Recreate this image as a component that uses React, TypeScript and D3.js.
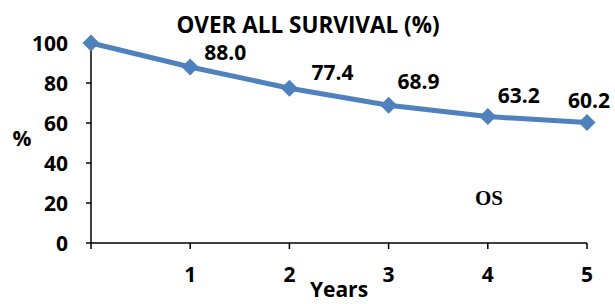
import React from 'react';
import * as d3 from 'd3';

// chart data
const years = [0, 1, 2, 3, 4, 5];
const survival = [100, 88.0, 77.4, 68.9, 63.2, 60.2];
const yTicks = [0, 20, 40, 60, 80, 100];
const xTickLabels = ['', '1', '2', '3', '4', '5'];

// nudges for the data labels (dx, dy from the marker)
const labelNudge: [number, number][] = [
  [0, 0], [14, -7], [22, -8], [9, -16], [10, -14], [-19, -15],
];

const W = 615;
const H = 304;
const BLUE = '#4F81BD';
const FONT = '"Open Sans", sans-serif';

export default function App() {
  const x = d3.scaleLinear().domain([0, 5]).range([91, 587]);
  const y = d3.scaleLinear().domain([0, 100]).range([243, 43]);

  const line = d3.line<number>()
    .x((_, i) => x(years[i]))
    .y(d => y(d));

  const diamond = (cx: number, cy: number, r: number) =>
    `M${cx},${cy - r}L${cx + r},${cy}L${cx},${cy + r}L${cx - r},${cy}Z`;

  return (
    <svg width={W} height={H} style={{ position: 'absolute', left: 0, top: 0, background: '#fff' }}
      fontFamily={FONT} fontWeight="bold">
      {/* title */}
      <text x={308} y={33} textAnchor="middle" fontSize={22.5}>OVER ALL SURVIVAL (%)</text>

      {/* y axis */}
      <line x1={x(0)} x2={x(0)} y1={y(100)} y2={y(0)} stroke="#000" strokeWidth={1.5} />
      {yTicks.map(t => (
        <g key={t}>
          <line x1={x(0) - 5} x2={x(0)} y1={y(t)} y2={y(t)} stroke="#000" strokeWidth={1.5} />
          <text x={68} y={y(t)} dy="0.36em" textAnchor="end" fontSize={21}>{t}</text>
        </g>
      ))}
      <text x={22} y={139} dy="0.35em" textAnchor="middle" fontSize={21}>%</text>

      {/* x axis */}
      <line x1={x(0)} x2={x(5)} y1={y(0)} y2={y(0)} stroke="#000" strokeWidth={1.5} />
      {years.map((v, i) => (
        <g key={v}>
          <line x1={x(v)} x2={x(v)} y1={y(0)} y2={y(0) + 6} stroke="#000" strokeWidth={1.5} />
          <text x={x(v)} y={282} textAnchor="middle" fontSize={21}>{xTickLabels[i]}</text>
        </g>
      ))}
      <text x={(x(0) + x(5)) / 2} y={297} textAnchor="middle" fontSize={21}>Years</text>

      {/* series */}
      <path d={line(survival) ?? ''} fill="none" stroke={BLUE} strokeWidth={5} strokeLinejoin="round" />
      {survival.map((v, i) => (
        <path key={i} d={diamond(x(years[i]), y(v), 8.5)} fill={BLUE} />
      ))}

      {/* data labels */}
      {survival.map((v, i) => i === 0 ? null : (
        <text key={i} x={x(years[i]) + labelNudge[i][0]} y={y(v) + labelNudge[i][1]}
          fontSize={21}>{v.toFixed(1)}</text>
      ))}

      {/* series tag */}
      <text x={489} y={205} textAnchor="middle" fontSize={21}
        fontFamily='"Liberation Serif", "DejaVu Serif", serif'>OS</text>
    </svg>
  );
}
